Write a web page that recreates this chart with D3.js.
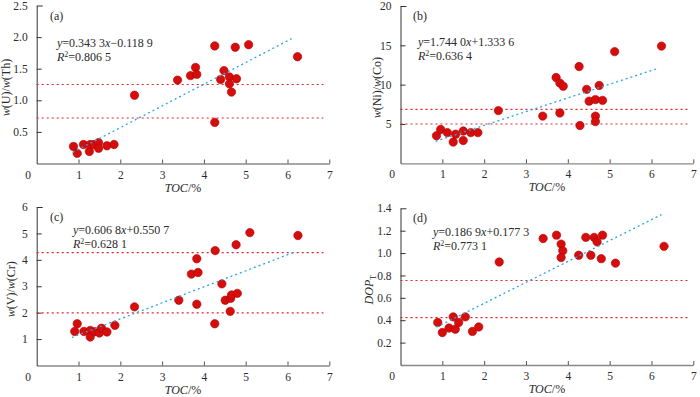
<!DOCTYPE html>
<html>
<head>
<meta charset="utf-8">
<script src="https://cdn.jsdelivr.net/npm/d3@7"></script>
<style>
  body { margin: 0; background: #fff; }
  svg text { font-family: "Liberation Serif", "Times New Roman", serif; fill: #2a2a2a; }
</style>
</head>
<body>
<svg id="chart" width="700" height="397"></svg>
<script>
// panel (a) U/Th
const tocA = [0.88, 0.97, 1.12, 1.26, 1.28, 1.37, 1.48, 1.48, 1.68, 1.85, 2.34, 3.37, 3.68, 3.80, 3.83, 4.26, 4.26, 4.40, 4.48, 4.61, 4.61, 4.66, 4.75, 4.78, 5.07, 6.24];
const uthA = [0.27, 0.16, 0.30, 0.19, 0.30, 0.30, 0.33, 0.24, 0.28, 0.30, 1.08, 1.32, 1.39, 1.52, 1.41, 1.86, 0.65, 1.33, 1.47, 1.37, 1.26, 1.13, 1.84, 1.34, 1.88, 1.69];
// panel (b) Ni/Co
const tocB = [0.86, 0.96, 1.12, 1.26, 1.32, 1.50, 1.50, 1.68, 1.85, 2.34, 3.40, 3.72, 3.81, 3.89, 3.81, 4.27, 4.29, 4.45, 4.51, 4.66, 4.66, 4.66, 4.75, 4.83, 5.12, 6.24];
const nicoB = [3.5, 4.3, 3.9, 2.7, 3.7, 2.9, 4.1, 3.9, 3.9, 6.7, 6.0, 10.9, 10.2, 9.8, 6.4, 12.3, 4.8, 9.4, 7.9, 8.1, 6.0, 5.3, 9.9, 8.0, 14.2, 14.9];
// panel (c) V/Cr
const tocC = [0.91, 0.97, 1.13, 1.28, 1.28, 1.39, 1.50, 1.55, 1.68, 1.87, 2.34, 3.40, 3.70, 3.83, 3.86, 3.83, 4.27, 4.26, 4.43, 4.51, 4.64, 4.66, 4.63, 4.80, 4.77, 5.10, 6.25];
const vcrC = [1.29, 1.58, 1.29, 1.33, 1.08, 1.28, 1.23, 1.41, 1.27, 1.52, 2.22, 2.47, 3.46, 4.04, 3.52, 2.32, 4.35, 1.58, 3.09, 2.47, 2.54, 2.67, 2.05, 2.73, 4.57, 5.03, 4.92];
// panel (d) DOP_T
const tocD = [0.89, 1.00, 1.16, 1.26, 1.31, 1.39, 1.55, 1.72, 1.87, 2.36, 3.41, 3.73, 3.84, 3.88, 3.84, 4.26, 4.43, 4.55, 4.63, 4.70, 4.80, 4.83, 5.14, 6.30];
const dopD = [0.38, 0.29, 0.33, 0.43, 0.32, 0.38, 0.43, 0.30, 0.34, 0.92, 1.13, 1.16, 1.08, 1.02, 0.96, 0.98, 1.14, 0.98, 1.14, 1.10, 0.95, 1.16, 0.91, 1.06];

const xTicks = [0, 1, 2, 3, 4, 5, 6, 7];
const serif = "'Liberation Serif', 'Times New Roman', serif";

const panels = [
  { tag: "(a)", x: tocA, y: uthA, xr: [36.7, 329.3], yd: [0, 2.5], yr: [163.5, 5.5],
    yTicks: [0.5, 1.0, 1.5, 2.0, 2.5], fmt: ".1f", lines: [0.72, 1.25],
    slope: 0.3433, icpt: -0.1189, fit: [0.86, 6.1], eq: ["0.343 3", "−0.118 9"], r2: "0.806 5",
    ylab: ["w", "(U)/", "w", "(Th)"], ylx: 10, tagPos: [50, 20], eqPos: [57, 47] },
  { tag: "(b)", x: tocB, y: nicoB, xr: [400.5, 693.3], yd: [0, 20], yr: [163.3, 6],
    yTicks: [5, 10, 15, 20], fmt: "d", lines: [5, 6.85],
    slope: 1.7440, icpt: 1.3336, fit: [0.84, 6.11], eq: ["1.744 0", "+1.333 6"], r2: "0.636 4",
    ylab: ["w", "(Ni)/", "w", "(Co)"], ylx: 381, tagPos: [413, 20], eqPos: [418, 46] },
  { tag: "(c)", x: tocC, y: vcrC, xr: [36.7, 329.3], yd: [0, 6], yr: [365.5, 207],
    yTicks: [1, 2, 3, 4, 5, 6], fmt: "d", lines: [1.99, 4.27],
    slope: 0.6068, icpt: 0.5507, fit: [0.84, 6.14], eq: ["0.606 8", "+0.550 7"], r2: "0.628 1",
    ylab: ["w", "(V)/", "w", "(Cr)"], ylx: 15, tagPos: [50, 221], eqPos: [73, 234] },
  { tag: "(d)", x: tocD, y: dopD, xr: [400.5, 693.3], yd: [0, 1.4], yr: [365, 208.3],
    yTicks: [0.2, 0.4, 0.6, 0.8, 1.0, 1.2, 1.4], fmt: ".1f", lines: [0.424, 0.755],
    slope: 0.1869, icpt: 0.1773, fit: [0.86, 6.24], eq: ["0.186 9", "+0.177 3"], r2: "0.773 1",
    ylab: null, ylx: 373, tagPos: [413, 222], eqPos: [433, 236] }
];

const svg = d3.select("#chart").attr("font-family", serif);

panels.forEach(p => {
  const g = svg.append("g");
  const x = d3.scaleLinear().domain([0, 7]).range(p.xr);
  const y = d3.scaleLinear().domain(p.yd).range(p.yr);

  // axes, ticks point inward
  const xa = g.append("g")
    .attr("transform", `translate(0,${p.yr[0]})`)
    .call(d3.axisBottom(x).tickValues(xTicks).tickFormat(d3.format("d"))
      .tickSizeInner(-4).tickSizeOuter(0).tickPadding(7));
  xa.attr("font-family", serif);
  xa.select(".domain").attr("stroke", "#888").attr("stroke-width", 1.3);
  xa.selectAll(".tick line").attr("stroke", "#555");
  xa.selectAll(".tick text").attr("font-size", 11.5)
    .attr("dx", d => d === 0 ? -9 : 0);
  xa.selectAll(".tick").filter(d => d === 0).select("line").remove();

  const ya = g.append("g")
    .attr("transform", `translate(${p.xr[0]},0)`)
    .call(d3.axisLeft(y).tickValues(p.yTicks).tickFormat(d3.format(p.fmt))
      .tickSizeInner(-5).tickSizeOuter(0).tickPadding(9));
  ya.attr("font-family", serif);
  ya.select(".domain").attr("stroke", "#333").attr("stroke-width", 1);
  ya.selectAll(".tick line").attr("stroke", "#333");
  ya.selectAll(".tick text").attr("font-size", 11.5);
  ya.selectAll(".tick").filter(d => d === p.yTicks[p.yTicks.length - 1])
    .select("line").attr("x2", 6);

  // threshold lines
  g.selectAll(".thr").data(p.lines).enter().append("line")
    .attr("x1", x(0)).attr("x2", x(6.86))
    .attr("y1", d => y(d)).attr("y2", d => y(d))
    .attr("stroke", "#e5222a").attr("stroke-width", 1.2)
    .attr("stroke-dasharray", "2,3");

  // points
  g.selectAll("circle").data(p.x).enter().append("circle")
    .attr("cx", d => x(d))
    .attr("cy", (d, i) => y(p.y[i]))
    .attr("r", 4.2)
    .attr("fill", "#d40d0d")
    .attr("stroke", "#b80000")
    .attr("stroke-width", 0.6);

  // linear fit
  g.append("line")
    .attr("x1", x(p.fit[0])).attr("y1", y(p.slope * p.fit[0] + p.icpt))
    .attr("x2", x(p.fit[1])).attr("y2", y(p.slope * p.fit[1] + p.icpt))
    .attr("stroke", "#2aa4e8").attr("stroke-width", 1.3)
    .attr("stroke-dasharray", "2,3");

  // panel tag
  g.append("text").attr("x", p.tagPos[0]).attr("y", p.tagPos[1])
    .attr("font-size", 12).text(p.tag);

  // equation
  const eq = g.append("text").attr("x", p.eqPos[0]).attr("y", p.eqPos[1]).attr("font-size", 12);
  eq.append("tspan").attr("font-style", "italic").text("y");
  eq.append("tspan").text("=" + p.eq[0]);
  eq.append("tspan").attr("font-style", "italic").text("x");
  eq.append("tspan").text(p.eq[1]);

  const r2 = g.append("text").attr("x", p.eqPos[0]).attr("y", p.eqPos[1] + 14).attr("font-size", 12);
  r2.append("tspan").attr("font-style", "italic").text("R");
  r2.append("tspan").attr("font-size", 8).attr("dy", -4).text("2");
  r2.append("tspan").attr("dy", 4).text("=" + p.r2);

  // x label
  const xl = g.append("text")
    .attr("x", x(3.5)).attr("y", p.yr[0] + 28)
    .attr("text-anchor", "middle").attr("font-size", 12);
  xl.append("tspan").attr("font-style", "italic").text("TOC");
  xl.append("tspan").text("/%");

  // y label
  const cy = (p.yr[0] + p.yr[1]) / 2 + 3;
  const yl = g.append("text")
    .attr("transform", `translate(${p.ylx},${cy}) rotate(-90)`)
    .attr("text-anchor", "middle").attr("font-size", 12);
  if (p.ylab) {
    p.ylab.forEach((s, i) => {
      yl.append("tspan").attr("font-style", i % 2 === 0 ? "italic" : "normal").text(s);
    });
  } else {
    yl.append("tspan").attr("font-style", "italic").text("DOP");
    yl.append("tspan").attr("font-size", 8).attr("dy", 3).text("T");
  }
});
</script>
</body>
</html>
